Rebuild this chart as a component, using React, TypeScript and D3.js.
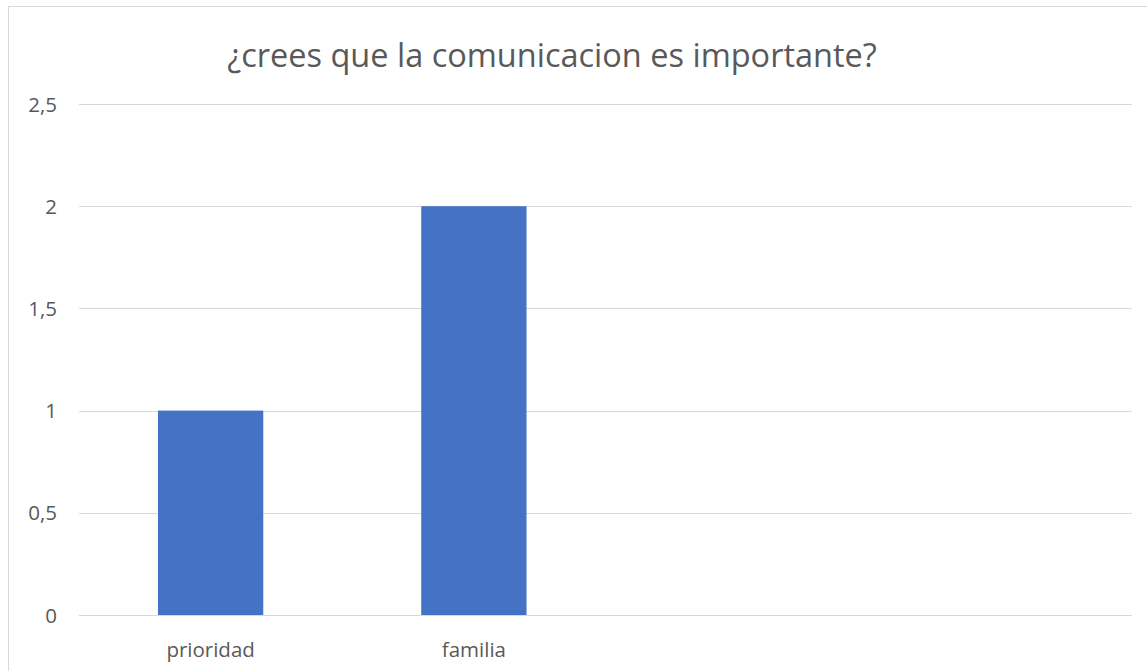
import React, { useEffect } from "react";
import * as d3 from "d3";

const categories = ["prioridad", "familia", "", " "];
const values = [1, 2, null, null];
const yTicks = [0, 0.5, 1, 1.5, 2, 2.5];
const yTickLabels = ["0", "0,5", "1", "1,5", "2", "2,5"];
const title = "¿crees que la comunicacion es importante?";

const W = 1147;
const H = 671;
const plot = { left: 79, right: 1132, top: 104, bottom: 615 };

export default function App() {
  useEffect(() => {
    document.body.style.margin = "0";
  }, []);
  const x = d3
    .scaleBand<string>()
    .domain(categories)
    .range([plot.left, plot.right])
    .paddingInner(0.6)
    .paddingOuter(0.3);
  const y = d3.scaleLinear().domain([0, 2.5]).range([plot.bottom, plot.top]);
  const font = "'Open Sans', 'Noto Sans', sans-serif";
  return (
    <svg width={W} height={H} style={{ display: "block", position: "absolute", left: 0, top: 0 }}>
      <rect x={0} y={0} width={W} height={H} fill="#fff" />
      <rect x={8.5} y={6.5} width={W + 10} height={H + 10} fill="none" stroke="#d9d9d9" strokeWidth={1} />
      <text x={552} y={67} textAnchor="middle" fontFamily={font} fontSize={32.5} fill="#595959">
        {title}
      </text>
      {yTicks.map((t, i) => (
        <g key={t}>
          <line x1={plot.left} x2={plot.right} y1={Math.round(y(t)) + 0.5} y2={Math.round(y(t)) + 0.5} stroke="#d9d9d9" strokeWidth={1} />
          <text x={57} y={y(t) + 7.5} textAnchor="end" fontFamily={font} fontSize={20.5} fill="#595959">
            {yTickLabels[i]}
          </text>
        </g>
      ))}
      {categories.map((c, i) =>
        values[i] == null ? null : (
          <rect key={c} x={x(c)} y={y(values[i] as number)} width={x.bandwidth()} height={y(0) - y(values[i] as number)} fill="#4472c4" />
        )
      )}
      {categories.map((c) =>
        c.trim() === "" ? null : (
          <text key={c} x={(x(c) as number) + x.bandwidth() / 2} y={657} textAnchor="middle" fontFamily={font} fontSize={20.5} fill="#595959">
            {c}
          </text>
        )
      )}
    </svg>
  );
}
